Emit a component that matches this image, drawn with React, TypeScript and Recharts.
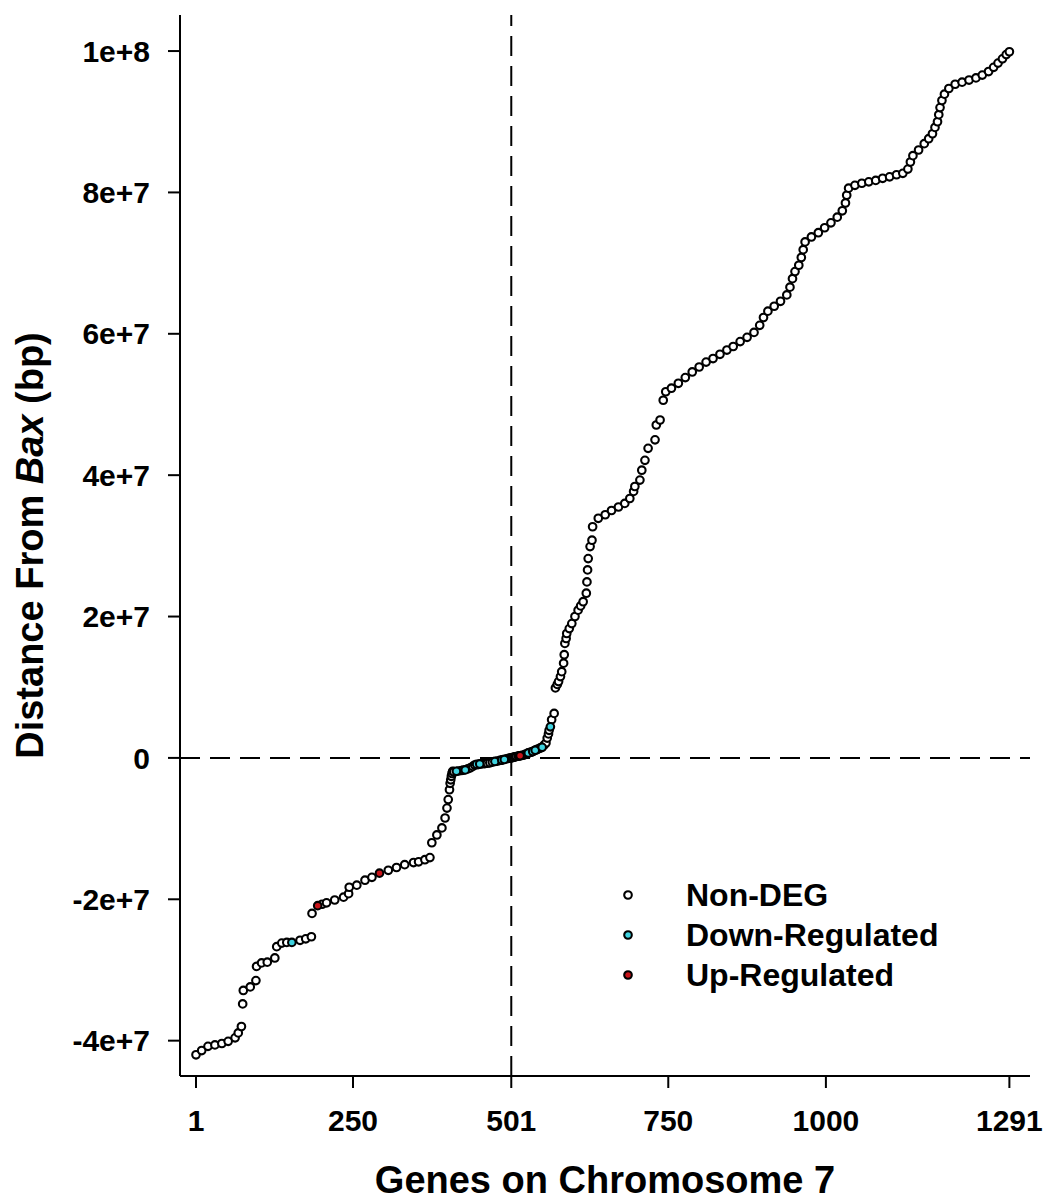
import React from "react";
import { ScatterChart, Scatter, XAxis, YAxis, ReferenceLine } from "recharts";

// [gene index on chromosome 7, distance from Bax in Mb]
const nonDegPoints: [number, number][] = [
  [1, -42.0], [10, -41.4], [20, -40.8], [31, -40.6], [42, -40.4], [52, -40.1], [63, -39.6], [68, -38.9],
  [73, -38.0], [75, -34.8], [76, -32.9], [87, -32.4], [96, -31.5], [97, -29.5], [105, -29.0], [114, -28.9],
  [126, -28.3], [129, -26.7], [137, -26.2], [145, -26.1], [166, -25.8], [175, -25.6], [184, -25.3], [185, -22.0],
  [201, -20.7], [208, -20.5], [221, -20.1], [235, -19.7], [243, -19.2], [244, -18.3], [256, -18.0], [269, -17.3],
  [280, -16.9], [306, -15.9], [319, -15.5], [332, -15.1], [346, -14.8], [354, -14.7], [364, -14.4], [372, -14.1],
  [375, -12.0], [383, -10.9], [391, -9.9], [396, -8.5], [399, -7.1], [401, -5.9], [403, -4.5], [404, -3.6],
  [405, -3.1], [406, -2.6], [407, -2.2], [408, -1.9], [410, -1.95],
  [417, -1.85], [422, -1.78], [425, -1.72], [432, -1.55], [436, -1.4], [440, -1.2], [443, -1.0], [448, -0.95],
  [452, -0.86], [455, -0.82], [459, -0.8], [463, -0.75], [467, -0.7], [471, -0.6], [479, -0.45], [483, -0.35],
  [487, -0.27], [494, -0.12], [497, -0.05], [499, -0.02], [501, 0], [503, 0.05], [505, 0.1], [507, 0.15],
  [509, 0.2], [512, 0.25], [514, 0.28], [518, 0.35], [521, 0.4], [524, 0.55], [527, 0.65], [531, 0.78],
  [533, 0.82], [537, 1.0], [541, 1.15], [543, 1.25], [546, 1.35], [548, 1.45], [553, 1.8], [556, 2.1],
  [558, 2.8], [560, 3.4], [561, 3.9], [565, 5.4], [569, 6.3],
  [571, 9.9], [574, 10.4], [576, 10.8], [579, 11.5], [581, 12.2], [584, 13.4], [585, 14.6], [586, 16.2],
  [588, 16.9], [589, 17.6], [593, 18.3], [597, 19.0], [602, 20.0], [607, 20.9], [611, 21.5], [615, 22.1],
  [620, 23.3], [621, 24.9], [622, 26.6], [623, 28.2], [626, 29.9], [629, 30.8], [630, 32.7], [639, 33.9],
  [650, 34.4], [660, 35.0], [671, 35.5], [681, 36.0], [689, 36.7], [695, 37.7], [697, 38.4], [705, 39.3],
  [708, 40.7], [713, 42.1], [718, 43.8], [729, 45.0], [731, 47.1], [737, 47.8],
  [742, 50.6], [746, 51.8], [755, 52.3], [766, 53.0], [777, 53.8], [788, 54.6], [799, 55.3], [810, 56.0],
  [821, 56.5], [832, 57.1], [843, 57.7], [853, 58.2],
  [864, 58.9], [875, 59.5], [886, 60.2], [895, 61.2], [901, 62.3], [908, 63.2], [918, 63.9], [928, 64.6],
  [938, 65.5], [943, 66.6], [947, 67.8], [951, 68.8], [957, 69.7], [961, 70.8], [964, 71.9], [967, 73.0],
  [977, 73.7], [988, 74.3], [998, 75.0], [1008, 75.7], [1018, 76.5], [1026, 77.4], [1031, 78.5], [1033, 79.6],
  [1036, 80.6], [1046, 81.0], [1057, 81.3], [1068, 81.5], [1079, 81.7], [1090, 82.0], [1101, 82.2], [1112, 82.5],
  [1122, 82.7], [1130, 83.3], [1134, 84.3], [1138, 85.2], [1147, 86.0], [1156, 86.9], [1163, 87.6], [1169, 88.3],
  [1173, 89.2], [1177, 90.0], [1179, 91.0], [1181, 92.0], [1184, 93.0], [1188, 93.9], [1195, 94.7], [1205, 95.3],
  [1216, 95.6], [1227, 95.9], [1238, 96.2], [1248, 96.6], [1258, 97.1], [1266, 97.7], [1273, 98.3], [1280, 98.9],
  [1286, 99.5], [1291, 99.9],
];

const downPoints: [number, number][] = [
  [153, -26.1], [414, -1.9], [428, -1.7], [446, -0.9], [451, -0.85], [475, -0.5], [486, -0.3], [490, -0.22],
  [528, 0.7], [535, 0.9], [539, 1.1], [550, 1.5], [563, 4.4],
];

const upPoints: [number, number][] = [[194, -20.9], [292, -16.3], [515, 0.3]];

const xTicks = [1, 250, 501, 750, 1000, 1291];
const yTicks = [-40, -20, 0, 20, 40, 60, 80, 100];
const yTickLabels = ["-4e+7", "-2e+7", "0", "2e+7", "4e+7", "6e+7", "8e+7", "1e+8"];

const FONT = "'Liberation Sans', Arial, Helvetica, sans-serif";
const DOWN_COLOR = "#3fd3e0";
const UP_COLOR = "#c8141a";
const R = 3.8;

const toRows = (pts: [number, number][]) => pts.map(([gene, dist]) => ({ gene, dist }));

const dot = (fill: string) => (props: any) => (
  <circle cx={props.cx} cy={props.cy} r={R} fill={fill} stroke="#000" strokeWidth={2.1} />
);

const tickStyle = { fill: "#000", fontSize: 30, fontWeight: "bold", fontFamily: FONT };

const legendItems = [
  { label: "Non-DEG", color: "#fff" },
  { label: "Down-Regulated", color: DOWN_COLOR },
  { label: "Up-Regulated", color: UP_COLOR },
];

const YTitle = (props: any) => {
  const cy = props.viewBox.y + props.viewBox.height / 2;
  return (
    <text
      x={43}
      y={cy}
      transform={`rotate(-90, 43, ${cy})`}
      textAnchor="middle"
      fontSize={38}
      fontWeight="bold"
      fontFamily={FONT}
      fill="#000"
    >
      Distance From <tspan fontStyle="italic">Bax</tspan> (bp)
    </text>
  );
};

const XTitle = (props: any) => {
  const cx = props.viewBox.x + props.viewBox.width / 2;
  return (
    <text x={cx} y={1193} textAnchor="middle" fontSize={38} fontWeight="bold" fontFamily={FONT} fill="#000">
      Genes on Chromosome 7
    </text>
  );
};

export default function App() {
  return (
    <div style={{ position: "absolute", left: 0, top: 0, width: 1044, height: 1203, background: "#fff" }}>
      <ScatterChart width={1044} height={1203} margin={{ top: 15, right: 14, bottom: 0, left: 0 }}>
        <XAxis
          dataKey="gene"
          type="number"
          domain={[-24.4, 1323.7]}
          ticks={xTicks}
          interval={0}
          allowDataOverflow
          height={127}
          tickSize={12}
          tickMargin={22}
          tick={tickStyle}
          axisLine={{ stroke: "#000", strokeWidth: 2 }}
          tickLine={{ stroke: "#000", strokeWidth: 2 }}
          label={<XTitle />}
        />
        <XAxis
          xAxisId="top"
          orientation="top"
          type="number"
          domain={[-24.4, 1323.7]}
          height={0}
          tick={false}
          tickLine={false}
          axisLine={{ stroke: "#000", strokeWidth: 2 }}
        />
        <YAxis
          dataKey="dist"
          type="number"
          domain={[-45, 105.1]}
          ticks={yTicks}
          interval={0}
          allowDataOverflow
          width={180}
          tickSize={12}
          tickMargin={18}
          tick={tickStyle}
          tickFormatter={(v: number) => yTickLabels[yTicks.indexOf(v)]}
          axisLine={{ stroke: "#000", strokeWidth: 2 }}
          tickLine={{ stroke: "#000", strokeWidth: 2 }}
          label={<YTitle />}
        />
        <YAxis
          yAxisId="right"
          orientation="right"
          type="number"
          domain={[-45, 105.1]}
          width={0}
          tick={false}
          tickLine={false}
          axisLine={{ stroke: "#000", strokeWidth: 2 }}
        />
        <ReferenceLine x={501} stroke="#000" strokeWidth={2} strokeDasharray="20 10" />
        <ReferenceLine y={0} stroke="#000" strokeWidth={2} strokeDasharray="20 10" />
        <Scatter name="Non-DEG" data={toRows(nonDegPoints)} shape={dot("#fff")} isAnimationActive={false} />
        <Scatter name="Down-Regulated" data={toRows(downPoints)} shape={dot(DOWN_COLOR)} isAnimationActive={false} />
        <Scatter name="Up-Regulated" data={toRows(upPoints)} shape={dot(UP_COLOR)} isAnimationActive={false} />
      </ScatterChart>

      {/* Legend */}
      <div style={{ position: "absolute", left: 622, top: 875, fontFamily: FONT }}>
        {legendItems.map((item) => (
          <div key={item.label} style={{ display: "flex", alignItems: "center", height: 40 }}>
            <svg width={12} height={12}>
              <circle cx={6} cy={6} r={R} fill={item.color} stroke="#000" strokeWidth={2.1} />
            </svg>
            <span style={{ marginLeft: 52, fontSize: 32, fontWeight: "bold", lineHeight: "40px" }}>{item.label}</span>
          </div>
        ))}
      </div>
    </div>
  );
}
